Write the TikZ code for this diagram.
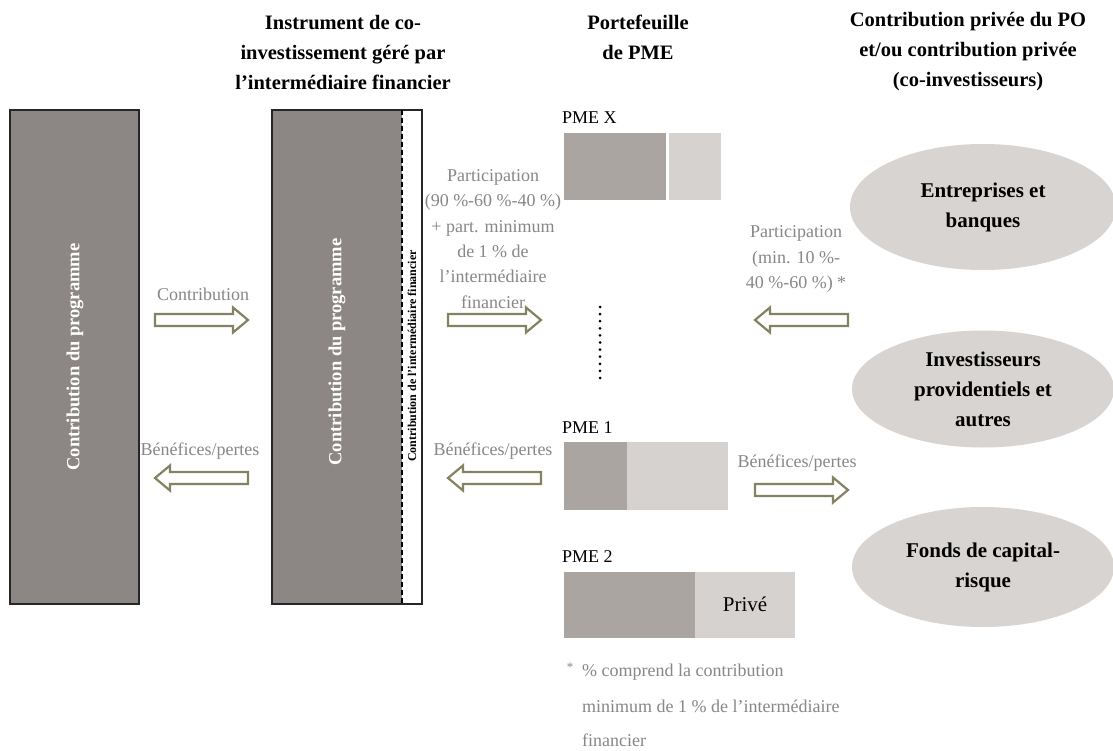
\documentclass[tikz,border=0pt]{standalone}
\usepackage{fontspec}
\setmainfont{Liberation Serif}
\usetikzlibrary{shapes.geometric}
\definecolor{rectgray}{RGB}{140,135,132}
\definecolor{pmedark}{RGB}{171,165,162}
\definecolor{pmelight}{RGB}{214,210,207}
\definecolor{ellfill}{RGB}{216,212,209}
\definecolor{labelgray}{RGB}{135,135,135}
\definecolor{arrowolive}{RGB}{132,130,96}
\tikzset{
  title/.style={font=\fontsize{20.5}{30}\selectfont\bfseries, align=center, inner sep=0pt},
  graylabel/.style={font=\fontsize{18}{25.3}\selectfont, text=labelgray, align=center, inner sep=0pt},
  pmelabel/.style={font=\fontsize{18}{22}\selectfont, anchor=west, inner sep=0pt},
  bigcol/.style={draw=black!85, line width=1.4pt, fill=rectgray},
  colname/.style={font=\fontsize{18.5}{22}\selectfont\bfseries, text=white, rotate=90, inner sep=0pt},
  pmedarkbox/.style={fill=pmedark},
  pmelightbox/.style={fill=pmelight},
  cloud/.style={ellipse, fill=ellfill, font=\fontsize{21}{30}\selectfont\bfseries, align=center, inner sep=0pt},
  blockarrow/.style={draw=arrowolive, line width=2.2pt, fill=white, line join=miter},
  note/.style={font=\fontsize{18}{22}\selectfont, text=labelgray, anchor=west, inner sep=0pt},
  rarrow/.pic={\path[blockarrow] (0,-6) -- (78,-6) -- (78,-12.5) -- (93,0) -- (78,12.5) -- (78,6) -- (0,6) -- cycle;},
  larrow/.pic={\path[blockarrow] (0,-6) -- (-78,-6) -- (-78,-12.5) -- (-93,0) -- (-78,12.5) -- (-78,6) -- (0,6) -- cycle;}
}
\begin{document}
\begin{tikzpicture}[x=1pt,y=-1pt]
\useasboundingbox (0,0) rectangle (1113,751);
\fill[white] (0,0) rectangle (1113,751);
\clip (0,0) rectangle (1113,751);

% column headings
\node[title] (t1) at (343,52) {Instrument de co-\\investissement géré par\\l'intermédiaire financier};
\node[title] (t2) at (638,37) {Portefeuille\\de PME};
\node[title] (t3) at (968,52) {Contribution privée du PO\\et/ou contribution privée\\(co-investisseurs)};

% programme contribution column
\path[bigcol] (10,110) rectangle (139,604);
\node[colname] (prog) at (75,357) {Contribution du programme};

% co-investment instrument: programme share + intermediary share
\path[fill=white] (272,110) rectangle (422,604);
\path[fill=rectgray] (272,110) rectangle (402,604);
\draw[black!85, line width=1.4pt] (272,110) rectangle (422,604);
\draw[black, line width=2pt, dash pattern=on 5pt off 3pt] (402,110) -- (402,604);
\node[colname] (inst) at (337,352) {Contribution du programme};
\node[font=\fontsize{12}{14}\selectfont\bfseries, rotate=90, inner sep=0pt] (interm) at (412,356) {Contribution de l'intermédiaire financier};

% flows between programme and instrument
\node[graylabel] (lcontrib) at (203,294) {Contribution};
\pic (acontrib) at (155,320) {rarrow};
\node[graylabel] (lbenef1) at (200,451) {Bénéfices/pertes};
\pic (abenef1) at (248,478) {larrow};

% flows between instrument and portfolio
\node[graylabel] (lpart) at (493,239) {Participation\\(90 \%-60 \%-40 \%)\\+ part. minimum\\de 1 \% de\\l'intermédiaire\\financier};
\pic (apart) at (448,320) {rarrow};
\node[graylabel] (lbenef2) at (493,451) {Bénéfices/pertes};
\pic (abenef2) at (541,478) {larrow};

% SME portfolio
\node[pmelabel] (pmex) at (562,118) {PME X};
\path[pmedarkbox] (564,133) rectangle (666,200);
\path[pmelightbox] (669,133) rectangle (721,200);
\coordinate (dtop) at (600,307);
\coordinate (dbot) at (600,378);
\draw[line width=3pt, line cap=round, dash pattern=on 0pt off 7.1pt] (dtop) -- (dbot);
\node[pmelabel] (pme1) at (562,428) {PME 1};
\path[pmedarkbox] (564,442) rectangle (627,510);
\path[pmelightbox] (627,442) rectangle (728,510);
\node[pmelabel] (pme2) at (562,557) {PME 2};
\path[pmedarkbox] (564,572) rectangle (695,638);
\path[pmelightbox] (695,572) rectangle (795,638);
\node[font=\fontsize{21}{24}\selectfont, inner sep=0pt] (prive) at (745,604) {Privé};

% flows between portfolio and private investors
\node[graylabel] (lpart2) at (796,259) {Participation\\(min. 10 \%-\\40 \%-60 \%) *};
\pic (apart2) at (848,320) {larrow};
\node[graylabel] (lbenef3) at (797,463) {Bénéfices/pertes};
\pic (abenef3) at (755,490) {rarrow};

% private co-investors
\node[cloud, minimum width=266pt, minimum height=126pt] (ent) at (983,207) {Entreprises et\\banques};
\node[cloud, minimum width=262pt, minimum height=117pt] (inv) at (983,389) {Investisseurs\\providentiels et\\autres};
\node[cloud, minimum width=262pt, minimum height=120pt] (fonds) at (983,567) {Fonds de capital-\\risque};

% footnote
\node[font=\fontsize{13}{14}\selectfont, text=labelgray, inner sep=0pt] (star) at (570,667) {*};
\node[note] (n1) at (582,672) {\% comprend la contribution};
\node[note] (n2) at (582,706) {minimum de 1 \% de l'intermédiaire};
\node[note] (n3) at (582,740) {financier};
\end{tikzpicture}
\end{document}
